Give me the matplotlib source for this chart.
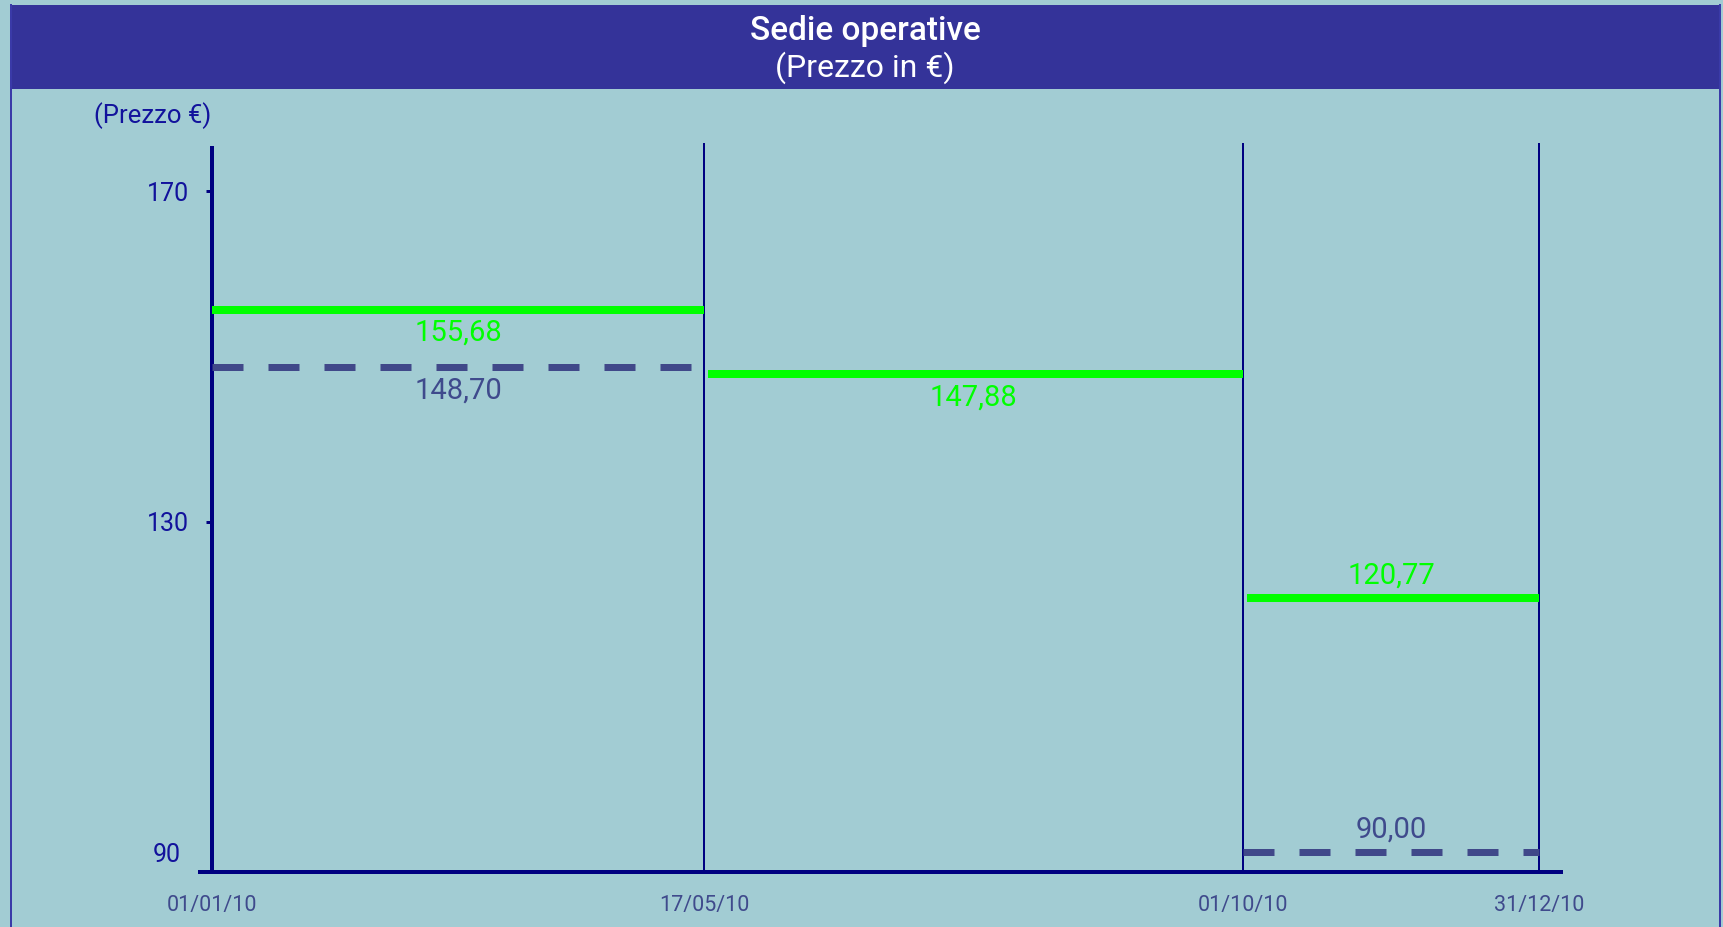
import matplotlib
matplotlib.use("Agg")
import matplotlib.pyplot as plt
from matplotlib.patches import Rectangle
from matplotlib.lines import Line2D

plt.rcParams['font.family'] = ['Roboto', 'DejaVu Sans']
plt.rcParams['lines.scale_dashes'] = False

# ---------------- data ----------------
title_line1 = "Sedie operative"
title_line2 = "(Prezzo in €)"
y_label = "(Prezzo €)"
date_labels = ["01/01/10", "17/05/10", "01/10/10", "31/12/10"]
date_positions = [0.0, 0.371, 0.777, 1.0]          # schematic spacing of the periods
y_ticks = [90, 130, 170]
green_prices = [155.68, 147.88, 120.77]             # one per period
green_label_side = ["below", "below", "above"]
dashed_periods = [0, 2]
dashed_prices = [148.70, 90.00]
dashed_label_side = ["below", "above"]

# ---------------- style ----------------
W, H, DPI = 1724, 927, 100
BG = "#A2CCD3"
BANNER = "#343399"
BORDER = "#3A3AA8"
NAVY = "#000080"
TICK_TXT = "#12129C"
SLATE = "#3F4A8C"
DASH = "#404889"
GREEN = "#00FF00"
PT = 72.0 / DPI   # points per pixel

def fx(px):
    return px / W

def fy(py):
    return 1 - py / H

fig = plt.figure(figsize=(W / DPI, H / DPI), dpi=DPI, facecolor=BG)

# outer frame and title banner
fig.patches.append(Rectangle((fx(10), fy(89)), fx(1720) - fx(10), (89 - 5) / H,
                             transform=fig.transFigure, facecolor=BANNER,
                             edgecolor="none", zorder=0))
for xpx in (11, 1720):
    fig.lines.append(Line2D([fx(xpx), fx(xpx)], [fy(5), 0], transform=fig.transFigure,
                            color=BORDER, lw=2 * PT))

fig.text(fx(865), fy(31), title_line1, ha="center", va="center", color="white",
         fontsize=24, fontweight="medium")
fig.text(fx(865), fy(68), title_line2, ha="center", va="center", color="white",
         fontsize=23)
fig.text(fx(153), fy(116), y_label, ha="center", va="center", color=TICK_TXT,
         fontsize=18.5)

# axes geometry (pixels)
ax_left, ax_right, ax_top, ax_bottom = 200, 1561, 148, 872
x0_px, x1_px = 212, 1539
ax = fig.add_axes([fx(ax_left), fy(ax_bottom), (ax_right - ax_left) / W,
                   (ax_bottom - ax_top) / H])
ax.set_facecolor("none")
xscale = (x1_px - x0_px)
ax.set_xlim(-(x0_px - ax_left) / xscale, (ax_right - x0_px) / xscale)
ky = (522 - 191.5) / 40.0
y_lo = 130 - (ax_bottom - 522) / ky
y_hi = 170 + (191.5 - ax_top) / ky
ax.set_ylim(y_lo, y_hi)

for s in ("top", "right"):
    ax.spines[s].set_visible(False)
ax.spines["left"].set_position(("data", 0))
for s in ("left", "bottom"):
    ax.spines[s].set_color(NAVY)
    ax.spines[s].set_linewidth(4 * PT)

ax.set_yticks(y_ticks)
ax.set_yticklabels([str(t) for t in y_ticks])
ax.tick_params(axis="y", direction="out", length=6 * PT, width=3 * PT, color=NAVY,
               labelsize=18, labelcolor=TICK_TXT, pad=12)
yt = ax.yaxis.get_major_ticks()
yt[0].tick1line.set_visible(False)
yt[0].set_pad(18.5)

ax.set_xticks(date_positions)
ax.set_xticklabels(date_labels)
ax.tick_params(axis="x", length=0, labelsize=15.5, labelcolor=SLATE, pad=16.5)

# period separators
vtop = y_hi + 5 / ky
for p in date_positions[1:]:
    ax.plot([p, p], [y_lo, vtop], color=NAVY, lw=2 * PT, clip_on=False,
            solid_capstyle="butt", zorder=2)

def fmt(v):
    return f"{v:.2f}".replace(".", ",")

OFF = 23  # px label offset from line

# green price levels
for i, v in enumerate(green_prices):
    a, b = date_positions[i], date_positions[i + 1]
    start = a + (0 if i == 0 else 4 / xscale)
    ax.plot([start, b], [v, v], color=GREEN, lw=8 * PT, solid_capstyle="butt", zorder=3)
    dy = -OFF if green_label_side[i] == "below" else OFF
    ax.annotate(fmt(v), xy=((a + b) / 2, v), xytext=(0, dy), textcoords="offset pixels",
                ha="center", va="center", color=GREEN, fontsize=21, zorder=4)

# dashed reference levels
for j, (k, v) in enumerate(zip(dashed_periods, dashed_prices)):
    a, b = date_positions[k], date_positions[k + 1]
    ln, = ax.plot([a, b], [v, v], color=DASH, lw=7 * PT, solid_capstyle="butt",
                  dash_capstyle="butt", zorder=3, clip_on=False)
    ln.set_dashes((31 * PT, 25 * PT))
    dy = OFF if dashed_label_side[j] == "above" else -OFF
    ax.annotate(fmt(v), xy=((a + b) / 2, v), xytext=(0, dy), textcoords="offset pixels",
                ha="center", va="center", color=SLATE, fontsize=21, zorder=4)

fig.savefig("out.png", dpi=DPI, facecolor=BG)
